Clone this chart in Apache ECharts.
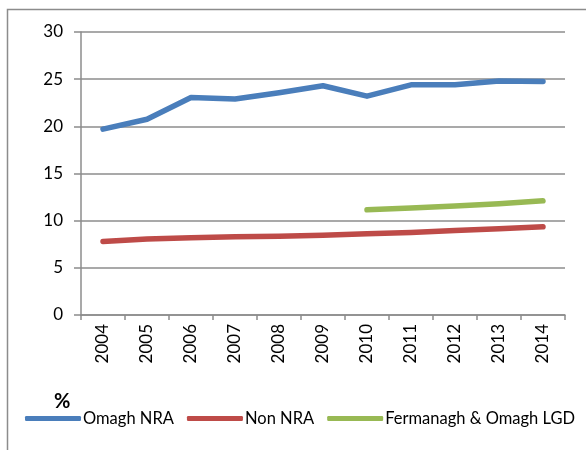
<!DOCTYPE html>
<html><head><meta charset="utf-8">
<script src="https://cdn.jsdelivr.net/npm/echarts@6/dist/echarts.min.js"></script>
<style>html,body{margin:0;padding:0;background:#fff}#c{width:586px;height:450px}</style>
</head><body><div id="c"></div>
<script>
const years = ['2004','2005','2006','2007','2008','2009','2010','2011','2012','2013','2014'];
const omaghNRA = [19.7, 20.75, 23.05, 22.9, 23.55, 24.3, 23.2, 24.4, 24.4, 24.8, 24.75];
const nonNRA = [7.8, 8.05, 8.2, 8.3, 8.35, 8.45, 8.6, 8.75, 8.95, 9.15, 9.35];
const fermOmaghLGD = [null, null, null, null, null, null, 11.15, 11.35, 11.55, 11.8, 12.1];
const yTicks = [0, 5, 10, 15, 20, 25, 30];

const font = 'Lato, "Open Sans", sans-serif';
const chart = echarts.init(document.getElementById('c'), null, {renderer: 'canvas'});
function line(name, data, color) {
  return {name, type: 'line', data, symbol: 'none', showSymbol: false, connectNulls: false,
    lineStyle: {color, width: 5.5, cap: 'round', join: 'round'}, itemStyle: {color}, animation: false};
}
chart.setOption({
  animation: false,
  grid: {left: 81, right: 21, top: 32, bottom: 135},
  graphic: [
    {type: 'rect', shape: {x: 7.5, y: 9.5, width: 640, height: 520}, style: {fill: 'none', stroke: '#8c8c8c', lineWidth: 1.5}, silent: true},
    {type: 'text', left: 54, top: 392, style: {text: '%', font: 'bold 20px ' + font, fill: '#000'}}
  ],
  legend: {
    left: 25, top: 410, width: 1000, padding: 0, itemWidth: 56, itemHeight: 5, itemGap: 13, icon: 'roundRect',
    textStyle: {fontFamily: font, fontSize: 16.5, color: '#000', padding: [0, 0, 0, -3]},
    data: ['Omagh NRA', 'Non NRA', 'Fermanagh & Omagh LGD']
  },
  xAxis: {
    type: 'category', data: years, boundaryGap: true,
    axisLine: {lineStyle: {color: '#8c8c8c', width: 1.5}},
    axisTick: {show: true, length: 5, alignWithLabel: false, lineStyle: {color: '#8c8c8c', width: 1.5}},
    axisLabel: {rotate: 90, fontFamily: font, fontSize: 17, color: '#000', margin: 9, interval: 0}
  },
  yAxis: {
    type: 'value', min: yTicks[0], max: yTicks[yTicks.length - 1], interval: 5,
    axisLine: {show: true, lineStyle: {color: '#8c8c8c', width: 1.5}},
    axisTick: {show: true, length: 7, lineStyle: {color: '#8c8c8c', width: 1.5}},
    splitLine: {lineStyle: {color: '#8c8c8c', width: 1.5}},
    axisLabel: {fontFamily: font, fontSize: 17, color: '#000', margin: 18}
  },
  series: [
    line('Omagh NRA', omaghNRA, '#4a7ebb'),
    line('Non NRA', nonNRA, '#be4b48'),
    line('Fermanagh & Omagh LGD', fermOmaghLGD, '#98b954')
  ]
});
</script></body></html>
